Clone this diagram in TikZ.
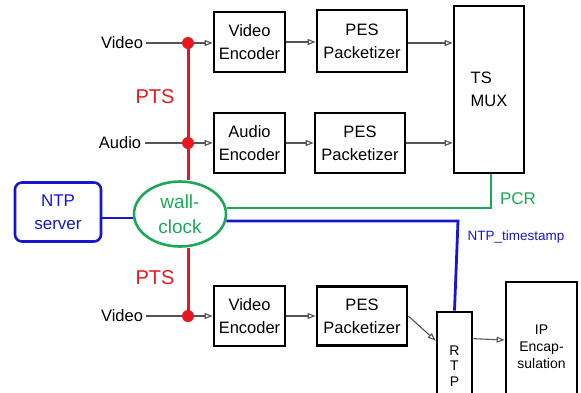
\documentclass[tikz,border=0pt]{standalone}
\usepackage{fontspec}
\setmainfont{Liberation Sans}
\usetikzlibrary{arrows.meta}
\usetikzlibrary{shapes.geometric}
\usetikzlibrary{positioning}
\usetikzlibrary{calc}

\definecolor{ptsred}{RGB}{232,22,30}
\definecolor{clkgreen}{RGB}{28,168,88}
\definecolor{ntpblue}{RGB}{22,22,205}
\definecolor{flowgray}{RGB}{85,85,85}

\begin{document}
\begin{tikzpicture}[x=1pt, y=-1pt,
    blk/.style={draw, line width=2.7pt, minimum width=71pt, minimum height=60pt, inner sep=0pt, align=center, font=\fontsize{16.5}{23}\selectfont},
    flow/.style={draw=flowgray, line width=1.1pt, -{Triangle[open, length=8pt, width=6pt]}},
    dot/.style={circle, fill=ptsred, inner sep=0pt, minimum size=12pt},
    src/.style={font=\fontsize{16.5}{20}\selectfont},
    redline/.style={ptsred, line width=3pt},
    greenline/.style={clkgreen, line width=2.8pt},
    blueline/.style={ntpblue, line width=2.8pt}]
        % Fix the page size and cut the boxes at the lower edge
        \useasboundingbox (0,0) rectangle (581,392);
        \clip (0,0) rectangle (581,392);

        % Draw the processing blocks
        \node[blk] (venc1) at (249.5,42) {Video\\Encoder};
        \node[blk, minimum width=90pt, minimum height=62pt] (pes1) at (362,41) {PES\\Packetizer};
        \node[blk] (aenc) at (249.5,143) {Audio\\Encoder};
        \node[blk, minimum width=90pt] (pes2) at (360,143) {PES\\Packetizer};
        \node[blk, minimum width=70pt, minimum height=167pt, align=left] (tsmux) at (489,89.5) {TS\\MUX};
        \node[blk] (venc2) at (249.5,316) {Video\\Encoder};
        \node[blk, minimum width=90pt, minimum height=59pt] (pes3) at (362,316) {PES\\Packetizer};
        \node[blk, minimum width=35pt, minimum height=108pt, font=\fontsize{14}{15.5}\selectfont] (rtp) at (454.5,366) {R\\T\\P};
        \node[blk, minimum width=71pt, minimum height=130pt, font=\fontsize{14}{17}\selectfont] (ip) at (541.5,347) {IP\\Encap-\\sulation};

        % Draw the clock sources
        \node[draw=ntpblue, text=ntpblue, line width=2.6pt, rounded corners=7pt, minimum width=86pt, minimum height=59pt, align=center, font=\fontsize{17}{23}\selectfont] (ntp) at (58,212) {NTP\\server};
        \node[ellipse, draw=clkgreen, text=clkgreen, line width=2.6pt, minimum width=92pt, minimum height=65pt, inner sep=0pt, align=center, font=\fontsize{19}{25}\selectfont] (clock) at (180,214) {wall-\\clock};

        % Draw the input signals
        \node[src] (vid1) at (122,43) {Video};
        \node[src] (aud) at (120,143) {Audio};
        \node[src] (vid2) at (122,316) {Video};
        \coordinate (p1) at (188,43);
        \coordinate (p2) at (188,143);
        \coordinate (p3) at (188,316);

        % Draw the data flow
        \draw[flow] (vid1) -- (vid1 -| venc1.west);
        \draw[flow] (aud) -- (aud -| aenc.west);
        \draw[flow] (vid2) -- (vid2 -| venc2.west);
        \draw[flow] (venc1.east |- 0,42) -- (pes1.west |- 0,42);
        \draw[flow] (aenc) -- (pes2);
        \draw[flow] (venc2) -- (pes3);
        \draw[flow] (pes1.east |- 0,43) -- (tsmux.west |- 0,43);
        \draw[flow] (pes2) -- (pes2 -| tsmux.west);
        \draw[flow] (pes3.east) -- ($(rtp.north west)+(0,30)$);
        \draw[flow] ($(rtp.north east)+(0,28)$) -- (ip.west |- 0,340);

        % Draw the timing paths
        \draw[redline] (p1) -- (p2) -- (p2 |- clock.north);
        \draw[redline] (p3 |- clock.south) -- (p3);
        \node[dot] at (p1) {};
        \node[dot] at (p2) {};
        \node[dot] at (p3) {};
        \node[text=ptsred, font=\fontsize{20}{24}\selectfont] (pts1) at (155,97) {PTS};
        \node[text=ptsred, font=\fontsize{20}{24}\selectfont] (pts2) at (155,278) {PTS};

        \draw[blueline] (ntp.east |- 0,218) -- (clock.west |- 0,218);
        \coordinate (pcr) at (491,208);
        \draw[greenline] (clock.east |- 0,208) -- (pcr) -- (pcr |- tsmux.south);
        \node[text=clkgreen, font=\fontsize{17}{20}\selectfont] (pcrlbl) at (518,199) {PCR};
        \coordinate (ntpts) at (458,221);
        \draw[blueline] ($(clock.east |- 0,221)+(-1,0)$) -- (ntpts) -- (rtp.north);
        \node[text=ntpblue, font=\fontsize{13.5}{16}\selectfont] (tslbl) at (516,237) {NTP\_timestamp};
      \end{tikzpicture}
\end{document}
